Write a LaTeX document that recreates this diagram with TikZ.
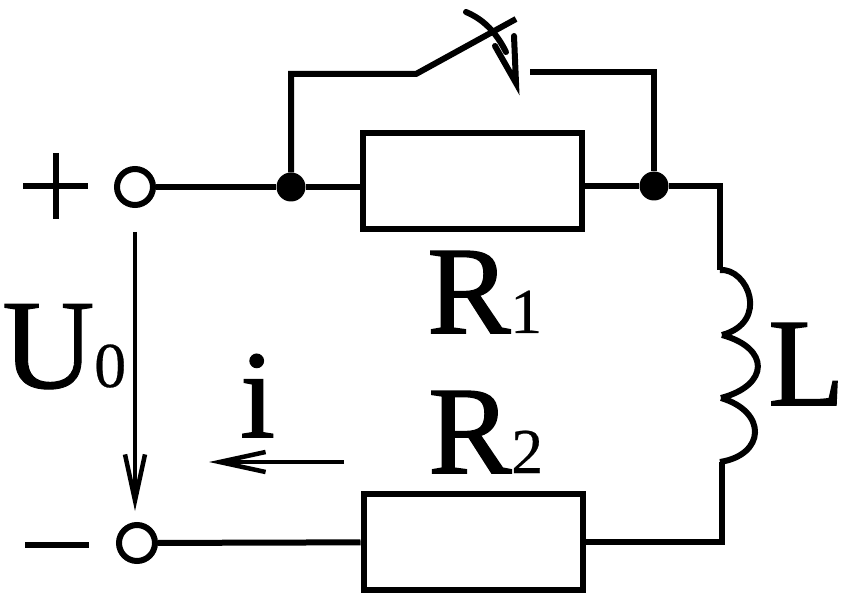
\documentclass[tikz,border=0pt]{standalone}
\usepackage{fontspec}
\setmainfont[FakeBold=1.2]{Liberation Serif}
\newfontfamily\subfont[FakeBold=0.4]{Liberation Serif}
\newfontfamily\ufont[FakeBold=0.7]{Liberation Serif}
\usetikzlibrary{arrows.meta}
\tikzset{
  wire/.style={line width=6pt,line join=miter},
  thin wire/.style={line width=3.5pt},
  res/.style={draw,line width=6pt,minimum width=219pt,minimum height=96pt,inner sep=0pt},
  term/.style={circle,draw,line width=6pt,fill=white,minimum size=36pt,inner sep=0pt},
  dot/.style={circle,fill=black,minimum size=29pt,inner sep=0pt},
  lab/.style={inner sep=0pt,anchor=base west},
  big/.style={lab,font=\fontsize{125}{125}\selectfont},
  small/.style={lab,font=\subfont\fontsize{64}{64}\selectfont},
  vee/.style={-{Straight Barb[length=46pt,width=20pt,line width=4.5pt]}}
}
\begin{document}
\begin{tikzpicture}[x=1pt,y=-1pt]
\useasboundingbox (0,0) rectangle (848,593);
\node[term] (tp) at (135,187) {};
\node[term] (tm) at (137,543) {};
\node[dot] (j1) at (291,187) {};
\node[dot] (j2) at (654,186) {};
\node[res] (r1) at (472,181) {};
\node[res] (r2) at (473,542) {};
\coordinate (a) at (291,74);
\coordinate (b) at (416,74);
\coordinate (c) at (516,19);
\coordinate (d) at (530,72);
\coordinate (e) at (654,72);
\coordinate (f) at (720,186);
\coordinate (g) at (720,270);
\coordinate (h) at (722,335);
\coordinate (k) at (721,398);
\coordinate (m) at (722,462);
\coordinate (n) at (722,542);
\coordinate (us) at (135,232);
\coordinate (ue) at (135,511);
\coordinate (is) at (344,462);
\coordinate (ie) at (209,462);
\draw[wire] (tp) -- (j1) -- (r1.west |- j1);
\draw[wire] (r1.east |- j2) -- (j2) -- (f) -- (g);
\draw[wire] (j1) -- (a) -- (b) -- (c);
\draw[wire] (d) -- (e) -- (j2);
\draw[wire,line cap=round] (466,12) .. controls (485,20) and (497,34) .. (506,52);
\draw[wire,line cap=round] (495,46) -- (516,83) -- (514,36);
\draw[wire] (g) .. controls (748,268) and (770,322) .. (722,335);
\draw[wire] (h) .. controls (770,348) and (770,385) .. (721,398);
\draw[wire] (k) .. controls (768,412) and (765,455) .. (720,462);
\draw[wire] (tm) -- (r2);
\draw[wire] (r2) -- (n) -- (m);
\draw[thin wire,vee] (us) -- (ue);
\draw[thin wire,vee] (is) -- (ie);
\draw[line width=6pt] (25,545) -- (89,545);
\draw[line width=6pt] (23,186) -- (88,186);
\draw[line width=6pt] (56,153) -- (56,219);
\node[big,font=\ufont\fontsize{128}{128}\selectfont] (lu) at (2,388) {U};
\node[small] (lu0) at (94,387) {0};
\node[big] (li) at (240,437) {i};
\node[big] (lr1) at (427,333) {R};
\node[small] (lr1s) at (510,333) {1};
\node[big] (lr2) at (428,473) {R};
\node[small] (lr2s) at (511,473) {2};
\node[big] (ll) at (768,405) {L};
\end{tikzpicture}
\end{document}
